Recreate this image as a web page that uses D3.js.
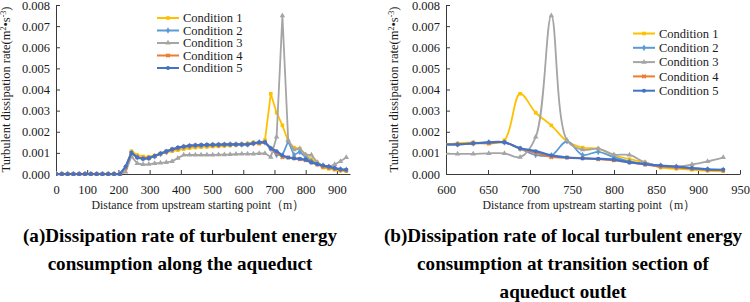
<!DOCTYPE html>
<html lang="en">
<head>
<meta charset="UTF-8" />
<title>Turbulent dissipation rate</title>
<script src="https://cdn.jsdelivr.net/npm/d3@7"></script>
<style>
  body { margin: 0; background: #fff; }
  svg { display: block; font-family: "Times New Roman", "Liberation Serif", serif; }
  .axis path, .axis line { stroke: #3a3a3a; stroke-width: 1; }
  .axis text { font-family: "Times New Roman", "Liberation Serif", serif; font-size: 12.5px; fill: #1a1a1a; }
  .legend text { font-size: 12.5px; fill: #1a1a1a; }
  .title { font-size: 12.5px; fill: #1a1a1a; }
  .caption { font-size: 19.5px; font-weight: bold; fill: #000; }
</style>
</head>
<body>
<script>
// distance from upstream starting point (m)
const distance = [0, 18.6, 37.2, 55.8, 74.4, 93, 111.6, 130.2, 148.8, 167.4, 186, 204.6, 223.2, 241.8, 260.4, 279,
  297.6, 316.2, 334.8, 353.4, 372, 390.6, 409.2, 427.8, 446.4, 465, 483.6, 502.2, 520.8, 539.4, 558, 576.6, 595.2,
  613.8, 632.4, 651, 669.6, 688.2, 706.8, 725.4, 744, 762.6, 781.2, 799.8, 818.4, 837, 855.6, 874.2, 892.8, 911.4, 930];

// turbulent dissipation rate, one array per condition
const condition1 = [0, 0, 0, 0, 0, 0, 0, 0, 0, 0, 0, 0, 0.0003, 0.00108, 0.0009, 0.00083, 0.00082, 0.00088, 0.00095,
  0.00102, 0.00108, 0.00113, 0.00118, 0.00122, 0.00125, 0.00127, 0.00128, 0.0013, 0.00131, 0.00133, 0.00135, 0.00138,
  0.0014, 0.00145, 0.0015, 0.00145, 0.0016, 0.0038, 0.0029, 0.0023, 0.00155, 0.00125, 0.0012, 0.0009, 0.0007,
  0.00055, 0.0003, 0.00025, 0.0002, 0.00015, 0.00013];
const condition2 = [0, 0, 0, 0, 0, 0, 0, 0, 0, 0, 0, 0, 0.0003, 0.001, 0.0008, 0.00073, 0.00075, 0.00083, 0.00095,
  0.00105, 0.00115, 0.00122, 0.00128, 0.00132, 0.00134, 0.00136, 0.00137, 0.00138, 0.00138, 0.00139, 0.0014, 0.0014,
  0.0014, 0.0014, 0.00145, 0.0015, 0.0015, 0.0012, 0.0009, 0.00088, 0.00155, 0.0009, 0.00105, 0.0008, 0.0006,
  0.00048, 0.0004, 0.00033, 0.00028, 0.00022, 0.0002];
const condition3 = [0, 0, 0, 0, 0, 0, 0, 0, 0, 0, 0, 0, 0.0001, 0.00083, 0.0005, 0.00045, 0.00047, 0.0005, 0.00053,
  0.00055, 0.0006, 0.00075, 0.0009, 0.0009, 0.0009, 0.0009, 0.0009, 0.0009, 0.00092, 0.00092, 0.00093, 0.00094,
  0.00095, 0.00095, 0.00095, 0.00098, 0.00098, 0.0008, 0.00175, 0.0075, 0.0016, 0.00115, 0.0012, 0.00092, 0.0009,
  0.00055, 0.00038, 0.00035, 0.00045, 0.0006, 0.00078];
const condition4 = [0, 0, 0, 0, 0, 0, 0, 0, 0, 0, 0, 0, 0.0003, 0.001, 0.0008, 0.00073, 0.00075, 0.00084, 0.00096,
  0.00106, 0.00116, 0.00123, 0.00129, 0.00133, 0.00135, 0.00136, 0.00137, 0.00138, 0.00138, 0.00139, 0.0014, 0.0014,
  0.0014, 0.0014, 0.00145, 0.00145, 0.0015, 0.0012, 0.001, 0.0008, 0.00078, 0.00075, 0.0007, 0.00065, 0.00055,
  0.00045, 0.00035, 0.0003, 0.00025, 0.0002, 0.00018];
const condition5 = [0, 0, 0, 0, 0, 0, 0, 0, 0, 0, 0, 0, 0.00035, 0.001, 0.00078, 0.00072, 0.00075, 0.00085, 0.00097,
  0.00107, 0.00117, 0.00125, 0.0013, 0.00134, 0.00136, 0.00137, 0.00138, 0.00138, 0.00139, 0.0014, 0.0014, 0.0014,
  0.0014, 0.0014, 0.00145, 0.0015, 0.0015, 0.00122, 0.00108, 0.00088, 0.00078, 0.00074, 0.00072, 0.00068, 0.00055,
  0.00047, 0.0004, 0.00035, 0.00028, 0.00022, 0.0002];

const seriesNames = ['Condition 1', 'Condition 2', 'Condition 3', 'Condition 4', 'Condition 5'];
const seriesValues = [condition1, condition2, condition3, condition4, condition5];
const seriesColors = ['#FFC000', '#5B9BD5', '#A5A5A5', '#ED7D31', '#4472C4'];
const seriesSymbols = [d3.symbolSquare, d3.symbolDiamond, d3.symbolTriangle, d3.symbolCross, d3.symbolCircle];

const yTicks = [0, 0.001, 0.002, 0.003, 0.004, 0.005, 0.006, 0.007, 0.008];
const xTicksA = [0, 100, 200, 300, 400, 500, 600, 700, 800, 900];
const xTicksB = [600, 650, 700, 750, 800, 850, 900, 950];

const captionA = ['(a)Dissipation rate of turbulent energy', 'consumption along the aqueduct'];
const captionB = ['(b)Dissipation rate of local turbulent energy', 'consumption at transition section of', 'aqueduct outlet'];

const svg = d3.select('body').append('svg').attr('width', 750).attr('height', 302);

const series = seriesNames.map((name, i) => ({
  name: name,
  color: seriesColors[i],
  symbol: seriesSymbols[i],
  points: distance.map((d, j) => ({ x: d, y: seriesValues[i][j] }))
}));

function drawPanel(p) {
  const x = d3.scaleLinear().domain(p.xDomain).range([p.left, p.right]);
  const y = d3.scaleLinear().domain([0, 0.008]).range([p.bottom, p.top]);
  const g = svg.append('g');

  g.append('clipPath').attr('id', p.id + '-clip')
    .append('rect').attr('x', p.left).attr('y', 0)
    .attr('width', p.right - p.left).attr('height', p.bottom + 2);

  g.append('g').attr('class', 'axis')
    .attr('transform', `translate(0,${p.bottom})`)
    .call(d3.axisBottom(x).tickValues(p.xTicks).tickSizeInner(-4).tickSizeOuter(0).tickPadding(11));

  g.append('g').attr('class', 'axis')
    .attr('transform', `translate(${p.left},0)`)
    .call(d3.axisLeft(y).tickValues(yTicks).tickFormat(d3.format('.3f')).tickSizeInner(-4).tickSizeOuter(0).tickPadding(6));

  const line = d3.line().x(d => x(d.x)).y(d => y(d.y)).curve(p.curve);
  const plot = g.append('g').attr('clip-path', `url(#${p.id}-clip)`);

  series.forEach(s => {
    const pts = s.points.filter(d => d.x >= p.xDomain[0] - 20);
    plot.append('path').datum(pts)
      .attr('fill', 'none').attr('stroke', s.color)
      .attr('stroke-width', s.name === 'Condition 5' ? 2.2 : 1.8)
      .attr('d', line);
    plot.selectAll(null).data(pts.filter(d => d.x >= p.xDomain[0])).enter().append('path')
      .attr('transform', d => `translate(${x(d.x)},${y(d.y)})${s.symbol === d3.symbolCross ? ' rotate(45)' : ''}`)
      .attr('d', d3.symbol().type(s.symbol).size(13))
      .attr('fill', s.color);
  });

  // axis titles
  g.append('text').attr('class', 'title')
    .attr('x', (p.left + p.right) / 2 + p.xTitleShift).attr('y', 209)
    .attr('text-anchor', 'middle')
    .attr('textLength', 213).attr('lengthAdjust', 'spacingAndGlyphs')
    .text('Distance from upstream starting point（m）');

  const yt = g.append('text').attr('class', 'title')
    .attr('transform', `translate(${p.yTitleX},${(p.top + p.bottom) / 2}) rotate(-90)`)
    .attr('text-anchor', 'middle');
  yt.append('tspan').text('Turbulent dissipation rate(m');
  yt.append('tspan').attr('font-size', '8px').attr('dy', -4).text('2');
  yt.append('tspan').attr('dy', 4).text('•s');
  yt.append('tspan').attr('font-size', '8px').attr('dy', -4).text('-3');
  yt.append('tspan').attr('dy', 4).text(')');
  // stretch the rotated title to the full height of the plot, as in the figure
  const ytw = yt.node().getComputedTextLength();
  yt.attr('transform', `translate(${p.yTitleX},${(p.top + p.bottom) / 2}) rotate(-90) scale(${166 / ytw},1)`);

  // legend
  const lg = g.append('g').attr('class', 'legend');
  series.forEach((s, i) => {
    const ly = p.legendY + i * p.legendStep;
    lg.append('line').attr('x1', p.legendX).attr('x2', p.legendX + 22)
      .attr('y1', ly).attr('y2', ly).attr('stroke', s.color).attr('stroke-width', 2);
    lg.append('path')
      .attr('transform', `translate(${p.legendX + 11},${ly})${s.symbol === d3.symbolCross ? ' rotate(45)' : ''}`)
      .attr('d', d3.symbol().type(s.symbol).size(13)).attr('fill', s.color);
    lg.append('text').attr('x', p.legendX + 26).attr('y', ly).attr('dy', '0.35em').text(s.name);
  });
}

drawPanel({
  id: 'a', left: 56, right: 350, top: 5, bottom: 174, xDomain: [0, 942], xTicks: xTicksA,
  curve: d3.curveLinear, xTitleShift: -5, yTitleX: 10, legendX: 157, legendY: 18, legendStep: 12.5
});
drawPanel({
  id: 'b', left: 446, right: 740, top: 5, bottom: 174, xDomain: [600, 950], xTicks: xTicksB,
  curve: d3.curveCatmullRom.alpha(0.5), xTitleShift: -4, yTitleX: 398, legendX: 633, legendY: 33.5, legendStep: 14.3
});

// captions under both panels, condensed bold like the source figure
function caption(lines, cx) {
  return lines.map((t, i) => svg.append('text').attr('class', 'caption')
    .attr('x', cx).attr('y', 242 + i * 28).attr('text-anchor', 'middle').text(t));
}
const capA = caption(captionA, 180);
const capB = caption(captionB, 563);
const squeeze = 314 / capA[0].node().getComputedTextLength();
capA.concat(capB).forEach(t => {
  t.attr('textLength', t.node().getComputedTextLength() * squeeze).attr('lengthAdjust', 'spacingAndGlyphs');
});
</script>
</body>
</html>
